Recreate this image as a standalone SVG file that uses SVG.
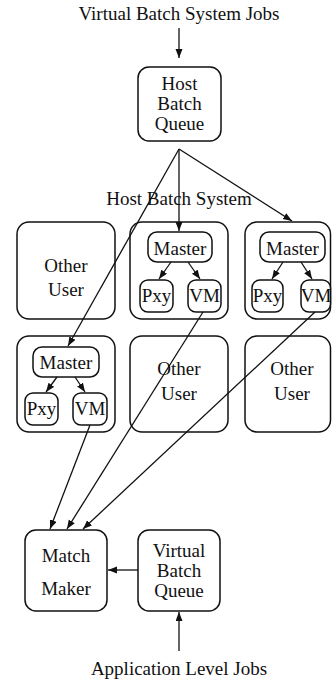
<svg xmlns="http://www.w3.org/2000/svg" width="332" height="680" viewBox="0 0 332 680">
<style>
text{font-family:"Liberation Serif","Times New Roman",serif;font-size:19px;fill:#111;text-anchor:middle}
.box{fill:#fff;stroke:#111;stroke-width:1.5}
.c{fill:none;stroke:#111;stroke-width:1.3;marker-end:url(#ah)}
</style>
<defs>
<marker id="ah" markerUnits="userSpaceOnUse" markerWidth="10" markerHeight="8" refX="9" refY="3.5" orient="auto">
<path d="M0,0 L9,3.5 L0,7 z" fill="#111"/>
</marker>
</defs>
<text x="179" y="20">Virtual Batch System Jobs</text>
<text x="179" y="205">Host Batch System</text>
<text x="179" y="675">Application Level Jobs</text>

<g id="hostQueue"><rect class="box" x="138" y="67" width="83" height="74" rx="11"/>
<text x="179.5" y="90">Host</text><text x="179.5" y="110">Batch</text><text x="179.5" y="130">Queue</text></g>

<g id="other1"><rect class="box" x="17" y="222" width="98" height="97" rx="12"/>
<text x="66" y="272">Other</text><text x="66" y="296">User</text></g>

<g id="node2"><rect class="box" x="130" y="222" width="98" height="97" rx="12"/>
<rect class="box" x="148" y="232" width="64" height="30" rx="9"/><text x="180" y="255">Master</text>
<rect class="box" x="140" y="280" width="33" height="32" rx="8"/><text x="156.5" y="302">Pxy</text>
<rect class="box" x="188" y="280" width="33" height="32" rx="8"/><text x="204.5" y="302">VM</text></g>

<g id="node3"><rect class="box" x="245" y="222" width="85.5" height="97" rx="12"/>
<rect class="box" x="260" y="232" width="65" height="30" rx="9"/><text x="292.5" y="255">Master</text>
<rect class="box" x="252" y="280" width="31" height="32" rx="8"/><text x="267.5" y="302">Pxy</text>
<rect class="box" x="301" y="280" width="29.5" height="32" rx="8"/><text x="316" y="302">VM</text></g>

<g id="node1"><rect class="box" x="17" y="336" width="98" height="96" rx="12"/>
<rect class="box" x="33" y="347" width="66" height="30" rx="9"/><text x="66" y="369">Master</text>
<rect class="box" x="25" y="393" width="33" height="32" rx="8"/><text x="41.5" y="415">Pxy</text>
<rect class="box" x="73" y="393" width="34" height="32" rx="8"/><text x="90" y="415">VM</text></g>

<g id="other2"><rect class="box" x="130" y="336" width="98" height="96" rx="12"/>
<text x="179" y="375">Other</text><text x="179" y="400">User</text></g>

<g id="other3"><rect class="box" x="245" y="336" width="85.5" height="96" rx="12"/>
<text x="292" y="375">Other</text><text x="292" y="400">User</text></g>

<g id="matchMaker"><rect class="box" x="25" y="530" width="82" height="81" rx="11"/>
<text x="66" y="562">Match</text><text x="66" y="595">Maker</text></g>

<g id="virtualQueue"><rect class="box" x="138" y="530" width="82" height="81" rx="11"/>
<text x="179" y="557">Virtual</text><text x="179" y="577">Batch</text><text x="179" y="597">Queue</text></g>

<g id="connectors">
<path class="c" d="M179,28 L179,58"/>
<path class="c" d="M179,149 L179,231"/>
<path class="c" d="M179,149 L292,221"/>
<path class="c" d="M179,149 L68,346"/>
<path class="c" d="M171,262 L159,279"/>
<path class="c" d="M188,262 L200,279"/>
<path class="c" d="M283,262 L272,279"/>
<path class="c" d="M301,262 L312,279"/>
<path class="c" d="M57,377 L46,392"/>
<path class="c" d="M75,377 L85,392"/>
<path class="c" d="M90,425 L50,529"/>
<path class="c" d="M203,312 L67,529"/>
<path class="c" d="M315,312 L83,529"/>
<path class="c" d="M138,570 L108,570"/>
<path class="c" d="M179,651 L179,612"/>
</g>
</svg>
